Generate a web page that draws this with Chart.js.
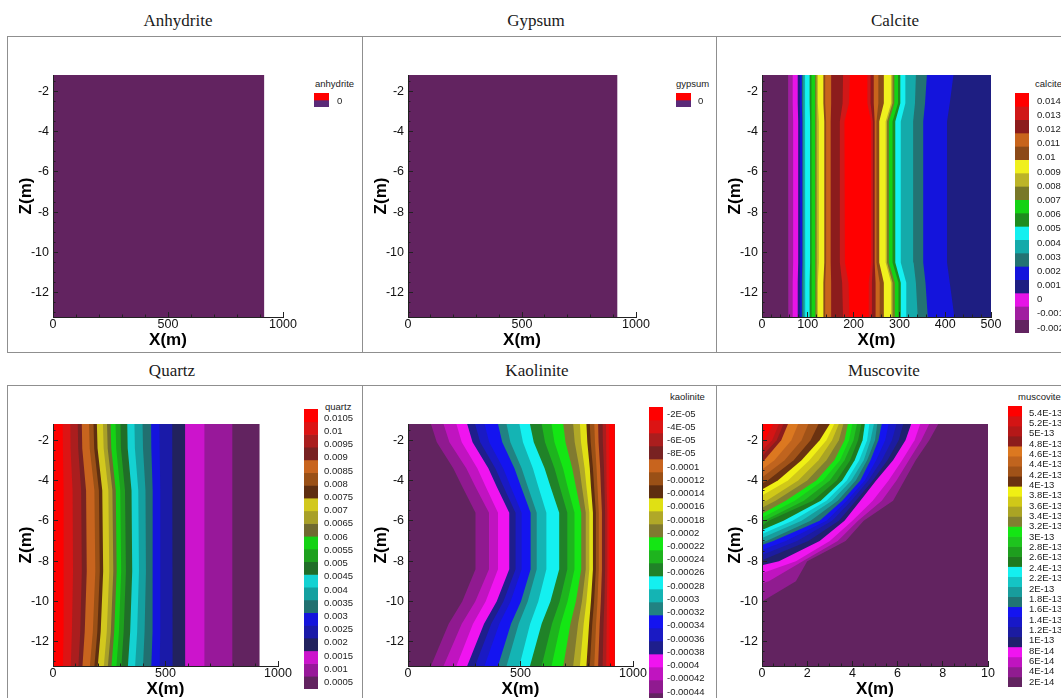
<!DOCTYPE html>
<html><head><meta charset="utf-8">
<script src="https://cdn.jsdelivr.net/npm/chart.js@4.4.1/dist/chart.umd.min.js"></script>
<style>
html,body{margin:0;padding:0;background:#fff;width:1061px;height:698px;overflow:hidden;position:relative;}
.box{position:absolute;border:1px solid #8f8f8f;box-sizing:border-box;}
.ptitle{position:absolute;font-family:'Liberation Serif','DejaVu Serif',serif;font-size:17px;line-height:17px;color:#1a1a1a;transform:translateX(-50%);white-space:nowrap;}
.ltitle{position:absolute;font-family:'Liberation Sans',Arial,sans-serif;font-size:9.5px;line-height:9.5px;color:#222;white-space:nowrap;}
canvas{position:absolute;}
</style></head><body>
<div class="box" style="left:7px;top:36px;width:356px;height:317px"></div>
<div class="box" style="left:362px;top:36px;width:355px;height:317px"></div>
<div class="box" style="left:716px;top:36px;width:360px;height:317px"></div>
<div class="box" style="left:7px;top:385px;width:356px;height:330px"></div>
<div class="box" style="left:362px;top:385px;width:355px;height:330px"></div>
<div class="box" style="left:716px;top:385px;width:360px;height:330px"></div>

<div class="ptitle" style="left:178px;top:12px">Anhydrite</div>
<div class="ptitle" style="left:536px;top:12px">Gypsum</div>
<div class="ptitle" style="left:895px;top:12px">Calcite</div>
<div class="ptitle" style="left:172px;top:362px">Quartz</div>
<div class="ptitle" style="left:537px;top:362px">Kaolinite</div>
<div class="ptitle" style="left:884px;top:362px">Muscovite</div>

<div class="ltitle" style="left:315px;top:79px">anhydrite</div>
<div class="ltitle" style="left:676px;top:79px">gypsum</div>
<div class="ltitle" style="left:1035px;top:79px">calcite</div>
<div class="ltitle" style="left:325px;top:402px">quartz</div>
<div class="ltitle" style="left:670px;top:392px">kaolinite</div>
<div class="ltitle" style="left:1018px;top:392px">muscovite</div>

<canvas id="p1" width="300" height="314" style="left:8px;top:37px"></canvas>
<canvas id="p2" width="298" height="314" style="left:363px;top:37px"></canvas>
<canvas id="p3" width="294" height="314" style="left:717px;top:37px"></canvas>
<canvas id="p4" width="295" height="314" style="left:8px;top:386px"></canvas>
<canvas id="p5" width="295" height="314" style="left:363px;top:386px"></canvas>
<canvas id="p6" width="289" height="314" style="left:717px;top:386px"></canvas>
<canvas id="l1"></canvas><canvas id="l2"></canvas><canvas id="l3"></canvas>
<canvas id="l4"></canvas><canvas id="l5"></canvas><canvas id="l6"></canvas>

<script>
// ================= DATA =================
const Z_TOP = -1.2, Z_BOTTOM = -13.2;          // depth range of the model (m)
const domainWidth = 918;                        // lateral extent of 1000 m panels (m)
const calciteWidth = 500, muscoviteWidth = 10;  // lateral extent of zoomed panels (m)

const zMajor = [-2, -4, -6, -8, -10, -12];
const zMinor = [-1.5, -2.5, -3, -3.5, -4.5, -5, -5.5, -6.5, -7, -7.5, -8.5, -9, -9.5, -10.5, -11, -11.5, -12.5, -13];
const xMajor1000 = [0, 500, 1000];
const xMinor1000 = [100, 200, 300, 400, 600, 700, 800, 900];
const calciteXMajor = [0, 100, 200, 300, 400, 500];
const calciteXMinor = [20, 40, 60, 80, 120, 140, 160, 180, 220, 240, 260, 280, 320, 340, 360, 380, 420, 440, 460, 480];
const muscoviteXMajor = [0, 2, 4, 6, 8, 10];
const muscoviteXMinor = [0.5, 1, 1.5, 2.5, 3, 3.5, 4.5, 5, 5.5, 6.5, 7, 7.5, 8.5, 9, 9.5];

// legend labels (top -> bottom)
const anhydriteLabels = ['0'];
const gypsumLabels = ['0'];
const calciteLabels = ['0.014','0.013','0.012','0.011','0.01','0.009','0.008','0.007','0.006','0.005','0.004','0.003','0.002','0.001','0','-0.001','-0.002'];
const quartzLabels = ['0.0105','0.01','0.0095','0.009','0.0085','0.008','0.0075','0.007','0.0065','0.006','0.0055','0.005','0.0045','0.004','0.0035','0.003','0.0025','0.002','0.0015','0.001','0.0005'];
const kaoliniteLabels = ['-2E-05','-4E-05','-6E-05','-8E-05','-0.0001','-0.00012','-0.00014','-0.00016','-0.00018','-0.0002','-0.00022','-0.00024','-0.00026','-0.00028','-0.0003','-0.00032','-0.00034','-0.00036','-0.00038','-0.0004','-0.00042','-0.00044'];
const muscoviteLabels = ['5.4E-13','5.2E-13','5E-13','4.8E-13','4.6E-13','4.4E-13','4.2E-13','4E-13','3.8E-13','3.6E-13','3.4E-13','3.2E-13','3E-13','2.8E-13','2.6E-13','2.4E-13','2.2E-13','2E-13','1.8E-13','1.6E-13','1.4E-13','1.2E-13','1E-13','8E-14','6E-14','4E-14','2E-14'];

// Calcite: isolines (ascending level -0.002 .. 0.014), x (m) at depth rows
const calciteRowsZ = [-1.2, -2.6, -3.5, -10.5, -11.5, -13.2];
const calciteLeftX = [
  [57, 57, 58, 58, 57, 57],
  [67, 67, 68, 68, 67, 67],
  [78, 78, 79, 79, 78, 78],
  [83, 83, 84, 84, 83, 83],
  [87, 87, 88, 88, 87, 87],
  [90, 90, 91, 91, 90, 90],
  [94, 94, 95, 95, 94, 94],
  [104, 104, 105, 105, 104, 104],
  [108, 108, 109, 109, 108, 108],
  [116, 116, 117, 117, 116, 116],
  [119, 119, 120, 120, 119, 119],
  [122, 122, 124, 124, 122, 122],
  [134, 134, 136, 136, 134, 134],
  [138, 138, 140, 140, 138, 138],
  [151, 151, 150, 150, 151, 151],
  [177, 176, 170, 170, 175, 177],
  [192, 190, 180, 181, 189, 191]
];
const calciteRightX = [
  null, null, null,
  [418, 410, 404, 404, 410, 420],
  [360, 356, 352, 352, 357, 362],
  [336, 334, 330, 331, 336, 340],
  [313, 313, 303, 303, 315, 315],
  [302, 302, 291, 291, 303, 303],
  [297, 297, 285, 285, 298, 298],
  [289, 289, 277, 277, 290, 290],
  [285, 285, 273, 273, 285, 285],
  [282, 282, 270, 270, 282, 282],
  [266, 266, 256, 256, 266, 266],
  [254, 254, 250, 250, 257, 257],
  [244, 244, 246, 246, 248, 248],
  [237, 237, 242, 242, 240, 240],
  [230, 230, 238, 238, 233, 233]
];

// Quartz: isolines (ascending 0.0005 .. 0.0105)
const quartzRowsZ = [-1.2, -2.4, -4.5, -8.5, -11.5, -13.2];
const quartzIsoX = [
  [797, 797, 797, 797, 797, 797],
  [673, 673, 673, 673, 673, 673],
  [587, 587, 588, 588, 587, 587],
  [530, 530, 533, 533, 532, 530],
  [473, 474, 477, 478, 476, 474],
  [436, 437, 443, 444, 441, 437],
  [398, 400, 411, 413, 407, 400],
  [362, 364, 379, 382, 374, 365],
  [330, 332, 349, 352, 343, 333],
  [300, 302, 320, 324, 314, 304],
  [278, 281, 299, 303, 293, 282],
  [256, 259, 279, 283, 272, 260],
  [240, 243, 264, 268, 257, 244],
  [222, 225, 246, 250, 239, 226],
  [195, 198, 219, 223, 212, 199],
  [180, 183, 204, 208, 197, 184],
  [160, 163, 184, 188, 177, 164],
  [128, 130, 147, 150, 141, 131],
  [110, 112, 125, 128, 121, 113],
  [77, 78, 87, 89, 84, 79],
  [43, 44, 47, 48, 46, 44]
];

// Kaolinite: isolines (ascending -0.00044 .. -2E-05)
const kaoliniteRowsZ = [-1.2, -2.1, -3.4, -4.3, -5.6, -8.4, -10.0, -11.1, -13.2];
const kaoliniteIsoX = [
  [102, 128, 201, 241, 300, 300, 241, 181, 102],
  [158, 184, 259, 299, 360, 360, 299, 239, 158],
  [215, 239, 308, 345, 400, 400, 345, 289, 215],
  [263, 287, 357, 394, 450, 450, 394, 338, 263],
  [298, 321, 388, 424, 478, 478, 424, 370, 298],
  [340, 361, 423, 456, 505, 505, 456, 406, 340],
  [400, 419, 473, 502, 545, 545, 502, 458, 400],
  [438, 455, 505, 532, 572, 572, 532, 492, 438],
  [495, 511, 555, 579, 615, 615, 579, 543, 495],
  [542, 559, 607, 633, 672, 672, 633, 594, 542],
  [594, 609, 651, 674, 708, 708, 674, 640, 594],
  [638, 651, 689, 709, 740, 740, 709, 679, 638],
  [690, 700, 730, 746, 770, 770, 746, 722, 690],
  [734, 741, 762, 773, 790, 790, 773, 756, 734],
  [764, 769, 785, 793, 806, 806, 793, 781, 764],
  [793, 797, 808, 813, 822, 822, 813, 805, 793],
  [808, 812, 822, 827, 835, 835, 827, 819, 808],
  [828, 831, 838, 842, 848, 848, 842, 836, 828],
  [845, 847, 854, 857, 862, 862, 857, 852, 845],
  [865, 866, 871, 873, 876, 876, 873, 869, 865],
  [880, 881, 883, 884, 886, 886, 884, 882, 880],
  [895, 895, 896, 896, 897, 897, 896, 896, 895]
];

// Muscovite: isolines (ascending 2E-14 .. 5.4E-13), x at depth rows, and depth where each meets x = 0
const muscoviteRowsZ = [-1.2, -2, -3, -4, -5, -6, -7, -8, -9];
const muscoviteIsoX = [
  [7.8, 7.4, 6.8, 6.3, 5.8, 4.5, 3.7, 2.0, 1.5],
  [7.4, 7.05, 6.5, 5.95, 5.3, 4.25, 3.35, 1.8, 0.3],
  [7.0, 6.75, 6.2, 5.6, 4.9, 4.0, 3.0, 1.5],
  [6.6, 6.35, 5.8, 5.05, 4.35, 3.65, 2.55, 0.75],
  [6.25, 6.05, 5.55, 4.9, 4.15, 3.4, 2.05],
  [5.95, 5.75, 5.3, 4.7, 3.95, 3.1, 1.55],
  [5.6, 5.45, 5.05, 4.55, 3.75, 2.85, 1.05],
  [5.3, 5.15, 4.8, 4.35, 3.55, 2.55, 0.5],
  [5.1, 5.0, 4.65, 4.15, 3.35, 2.15, 0.2],
  [4.95, 4.8, 4.5, 3.95, 3.1, 1.75],
  [4.75, 4.65, 4.3, 3.75, 2.85, 1.35],
  [4.55, 4.45, 4.1, 3.55, 2.6, 0.95],
  [4.4, 4.25, 3.9, 3.3, 2.25, 0.3],
  [4.2, 4.05, 3.65, 3.0, 1.85],
  [4.0, 3.85, 3.45, 2.7, 1.45],
  [3.8, 3.65, 3.2, 2.4, 1.05],
  [3.6, 3.4, 2.85, 2.0, 0.6],
  [3.4, 3.1, 2.5, 1.6, 0.2],
  [3.2, 2.85, 2.1, 1.15],
  [3.0, 2.55, 1.75, 0.7],
  [2.5, 2.15, 1.4, 0.25],
  [2.05, 1.75, 1.0],
  [1.6, 1.3, 0.55],
  [1.15, 0.85, 0.1],
  [0.95, 0.65],
  [0.75, 0.45],
  [0.5, 0.1]
];
const muscoviteEdgeZ = [-10.0, -9.1, -8.6, -8.2, -7.95, -7.7, -7.45, -7.2, -7.05, -6.85, -6.65, -6.45, -6.25, -6.05, -5.85, -5.65, -5.35, -5.05, -4.75, -4.45, -4.15, -3.85, -3.45, -3.05, -2.8, -2.5, -2.15];

// ================= STYLES =================
const FONT = "'Liberation Sans', Arial, Helvetica, sans-serif";
const BASE = '#622360';
const anhydritePalette = ['#ff0000', '#5a2a78'];
const calcitePalette = ['#ff0000','#d01818','#8c1c1c','#c8641c','#8c4a18','#f0f01e','#bcb428','#787828','#14d214','#1e8c1e','#14f0f0','#14aaaa','#237373','#1414dc','#1e1e82','#e614e6','#a01ea0',BASE];
const quartzPalette = ['#ff0000','#dc1414','#aa1e1e','#782222','#c8641e','#9a5016','#5e2e10','#d2c81e','#a8a028','#706a30','#14d214','#1ea01e','#206e28','#14d2d2','#14a0a0','#217070','#1414dc','#1a1aa8','#22225e','#cc14cc','#98189a',BASE];
const kaolinitePalette = ['#ff0000','#dc1414','#aa1e1e','#782222','#c8641e','#9a5016','#5e2e10','#e0e014','#b0a828','#807a30','#14e614','#1eb41e','#208228','#14f0f0','#14b4b4','#218282','#1414f0','#1a1ac4','#1e1e8c','#f014f0','#c014c0','#901a90',BASE];
const muscovitePalette = ['#ff0000','#d41414','#b41818','#8c1c1c','#dc7820','#c0641e','#a05218','#6a3210','#f0f014','#d0c818','#aaa424','#808030','#14e614','#1ec41e','#1e9e1e','#1e7a1e','#14f0f0','#14c4c4','#189c9c','#207474','#1414f0','#1818c8','#1c1ca0','#20206e','#f014f0','#c014c0','#901c90',BASE];

// ================= BUILDERS =================
function rect(x0, x1) {
  return [{x: x0, y: Z_TOP}, {x: x1, y: Z_TOP}, {x: x1, y: Z_BOTTOM}, {x: x0, y: Z_BOTTOM}];
}
function layersFrom(palette, polys, basePoly) {
  const N = palette.length;
  const out = [{color: palette[N - 1], points: basePoly}];
  polys.forEach((p, j) => out.push({color: palette[N - 2 - j], points: p}));
  return out;
}
const rowPts = (xs, zs) => xs.map((x, i) => ({x: x, y: zs[i]}));

const calcitePolys = calciteLeftX.map((lx, j) => {
  const rx = calciteRightX[j];
  const right = rx ? rowPts(rx, calciteRowsZ).reverse()
                   : [{x: calciteWidth, y: Z_BOTTOM}, {x: calciteWidth, y: Z_TOP}];
  return rowPts(lx, calciteRowsZ).concat(right);
});
const quartzPolys = quartzIsoX.map(xs =>
  [{x: 0, y: Z_TOP}].concat(rowPts(xs, quartzRowsZ), [{x: 0, y: Z_BOTTOM}]));
const kaolinitePolys = kaoliniteIsoX.map(xs =>
  rowPts(xs, kaoliniteRowsZ).concat([{x: domainWidth, y: Z_BOTTOM}, {x: domainWidth, y: Z_TOP}]));
const muscovitePolys = muscoviteIsoX.map((xs, j) =>
  [{x: 0, y: Z_TOP}].concat(rowPts(xs, muscoviteRowsZ), [{x: 0, y: muscoviteEdgeZ[j]}]));

function tickAxis(pos, min, max, values, len, weight, fitSize, labelled, title) {
  const horiz = pos === 'bottom';
  const ax = {
    type: 'linear', position: pos, min: min, max: max, bounds: 'data', weight: weight,
    afterBuildTicks: s => { s.ticks = values.map(v => ({value: v})); },
    afterFit: s => { if (horiz) s.height = fitSize; else s.width = fitSize; },
    grid: {drawOnChartArea: false, drawTicks: true, tickLength: len, tickColor: '#222', tickWidth: 1, z: 1},
    border: {display: labelled, color: '#222', width: 1, z: 1},
    ticks: labelled
      ? {autoSkip: false, maxRotation: 0, minRotation: 0, padding: horiz ? 5.5 : 9,
         font: {family: FONT, size: 12.5}, color: '#111', callback: v => String(v)}
      : {display: false}
  };
  if (title) ax.title = {display: true, text: title, color: '#000',
    font: {family: FONT, size: 17, weight: 'bold'},
    padding: horiz ? {top: 0, bottom: 0} : {top: 8.5, bottom: 0}};
  return ax;
}

function mainChart(id, xMin, xMax, xMaj, xMin2, padRight, layers) {
  const datasets = layers.map((l, i) => ({
    data: l.points, backgroundColor: l.color, borderColor: 'rgba(0,0,0,0)', borderWidth: 0,
    fill: 'shape', pointRadius: 0, pointHoverRadius: 0, pointHitRadius: 0, tension: 0,
    order: layers.length - i
  }));
  new Chart(document.getElementById(id), {
    type: 'line',
    data: {datasets: datasets},
    options: {
      responsive: false, animation: false, events: [], devicePixelRatio: 1,
      layout: {padding: {top: 38, right: padRight, left: 0, bottom: 0}},
      plugins: {legend: {display: false}, tooltip: {enabled: false}},
      scales: {
        x: tickAxis('bottom', xMin, xMax, xMaj, -5, 0, 34, true, 'X(m)'),
        xm: tickAxis('bottom', xMin, xMax, xMin2, -2.5, -1, 0, false, null),
        y: tickAxis('left', Z_BOTTOM, Z_TOP, zMajor, -5, 0, 45, true, 'Z(m)'),
        ym: tickAxis('left', Z_BOTTOM, Z_TOP, zMinor, -2.5, -1, 0, false, null)
      }
    }
  });
}

function colorbar(id, palette, labels, g) {
  const N = palette.length, L = labels.length;
  const unit = (g.bottom - g.top) / N;
  const pos = labels.map((_, k) => {
    const y = L > 1 ? g.first + k * (g.last - g.first) / (L - 1) : g.first;
    return N - (y - g.top) / unit;
  });
  const padV = 24, labW = 70;
  const cv = document.getElementById(id);
  cv.width = g.width + labW; cv.height = (g.bottom - g.top) + 2 * padV;
  cv.style.left = g.left + 'px'; cv.style.top = (g.top - padV) + 'px';
  new Chart(cv, {
    type: 'bar',
    data: {labels: [''], datasets: palette.map((c, k) => ({
      data: [[N - k - 1, N - k]], backgroundColor: c, borderWidth: 0,
      grouped: false, barPercentage: 1, categoryPercentage: 1}))},
    options: {
      responsive: false, animation: false, events: [], devicePixelRatio: 1,
      layout: {padding: {top: padV, bottom: padV, left: 0, right: 0}},
      plugins: {legend: {display: false}, tooltip: {enabled: false}},
      scales: {
        x: {display: false},
        y: {position: 'right', min: 0, max: N, bounds: 'data',
            afterBuildTicks: s => { s.ticks = pos.map(v => ({value: v})); },
            afterFit: s => { s.width = labW; },
            ticks: {autoSkip: false, padding: g.gap, font: {family: FONT, size: 9.5}, color: '#222',
                    callback: (v, i) => labels[i]},
            grid: {display: false, drawTicks: false}, border: {display: false}}
      }
    }
  });
}

// ================= CHARTS =================
mainChart('p1', 0, 1000, xMajor1000, xMinor1000, 25, [{color: BASE, points: rect(0, domainWidth)}]);
mainChart('p2', 0, 1000, xMajor1000, xMinor1000, 25, [{color: BASE, points: rect(0, domainWidth)}]);
mainChart('p3', 0, calciteWidth, calciteXMajor, calciteXMinor, 20, layersFrom(calcitePalette, calcitePolys, rect(0, calciteWidth)));
mainChart('p4', 0, 1000, xMajor1000, xMinor1000, 25, layersFrom(quartzPalette, quartzPolys, rect(0, domainWidth)));
mainChart('p5', 0, 1000, xMajor1000, xMinor1000, 25, layersFrom(kaolinitePalette, kaolinitePolys, rect(0, domainWidth)));
mainChart('p6', 0, muscoviteWidth, muscoviteXMajor, muscoviteXMinor, 18, layersFrom(muscovitePalette, muscovitePolys, rect(0, muscoviteWidth)));

colorbar('l1', anhydritePalette, anhydriteLabels, {left: 314, width: 15, top: 93, bottom: 107, first: 101.5, last: 101.5, gap: 8});
colorbar('l2', anhydritePalette, gypsumLabels, {left: 676, width: 15, top: 93, bottom: 107, first: 101.5, last: 101.5, gap: 7});
colorbar('l3', calcitePalette, calciteLabels, {left: 1015, width: 14, top: 93, bottom: 333, first: 101, last: 328, gap: 8});
colorbar('l4', quartzPalette, quartzLabels, {left: 304, width: 14, top: 409, bottom: 689, first: 418, last: 682.5, gap: 6});
colorbar('l5', kaolinitePalette, kaoliniteLabels, {left: 649, width: 14, top: 407, bottom: 706, first: 414, last: 692, gap: 4});
colorbar('l6', muscovitePalette, muscoviteLabels, {left: 1008, width: 14, top: 406, bottom: 687, first: 413, last: 682, gap: 7});
</script>
</body></html>
